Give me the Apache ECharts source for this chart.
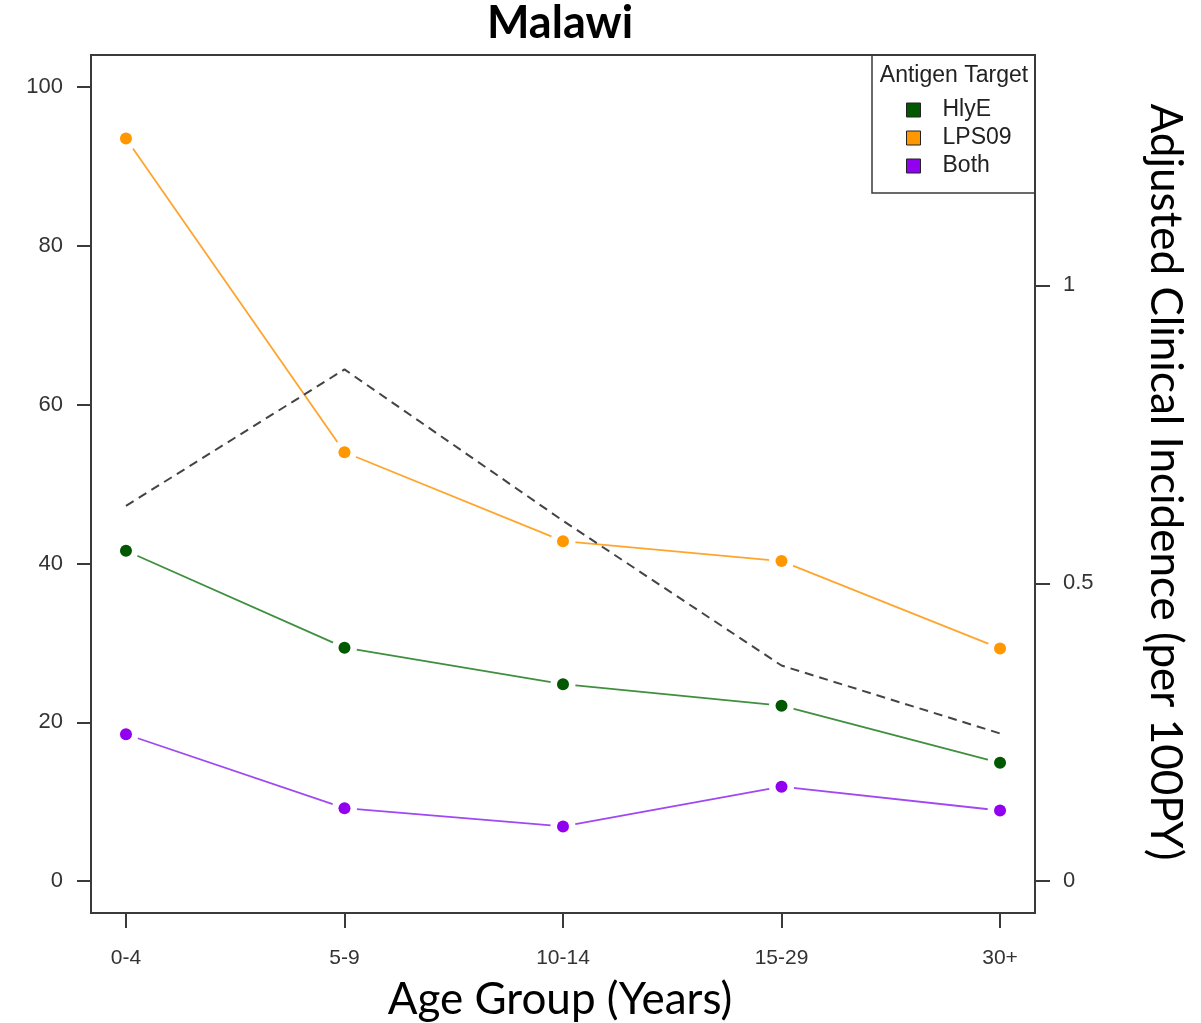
<!DOCTYPE html>
<html>
<head>
<meta charset="utf-8">
<script src="https://cdn.jsdelivr.net/npm/echarts@6/dist/echarts.min.js"></script>
<style>
html,body{margin:0;padding:0;background:#fff;}
#chart{width:1201px;height:1023px;}
</style>
</head>
<body>
<div id="chart"></div>
<script>
// ---- data ----
var categories = ['0-4', '5-9', '10-14', '15-29', '30+'];
var hlyE = [41.6, 29.4, 24.8, 22.1, 14.9];
var lps09 = [93.5, 54.0, 42.8, 40.3, 29.3];
var both = [18.5, 9.2, 6.9, 11.9, 8.9];
var incidence = [0.630, 0.859, 0.605, 0.362, 0.248];
var leftTicks = [0, 20, 40, 60, 80, 100];
var rightTicks = [0, 0.5, 1];
var xTicks = [1, 2, 3, 4, 5];

var colors = { HlyE: '#005800', LPS09: '#ff9700', Both: '#9200f0' };
var lineColors = { HlyE: '#3f8f3f', LPS09: '#ffa52e', Both: '#a048f2' };

function pts(arr) { return arr.map(function (v, i) { return [i + 1, v]; }); }

var groups = [['HlyE', hlyE], ['LPS09', lps09], ['Both', both]];
var series = [];
groups.forEach(function (g) {
  series.push({ name: g[0] + '_line', type: 'line', data: pts(g[1]), showSymbol: false, symbol: 'none',
    lineStyle: { color: lineColors[g[0]], width: 1.8 }, z: 2, silent: true, animation: false });
});
groups.forEach(function (g) {
  series.push({ name: g[0] + '_halo', type: 'scatter', data: pts(g[1]), symbolSize: 25,
    itemStyle: { color: '#ffffff', opacity: 1 }, z: 3, silent: true, animation: false });
});
groups.forEach(function (g) {
  series.push({ name: g[0], type: 'scatter', data: pts(g[1]), symbolSize: 12,
    itemStyle: { color: colors[g[0]], opacity: 1 }, z: 4, silent: true, animation: false });
});
series.push({ name: 'Incidence', type: 'line', yAxisIndex: 1, data: pts(incidence), showSymbol: false, symbol: 'none',
  lineStyle: { color: '#444444', width: 2, type: [9, 6] }, z: 5, silent: true, animation: false });

var chart = echarts.init(document.getElementById('chart'), null, { renderer: 'canvas' });
chart.setOption({
  backgroundColor: '#ffffff',
  animation: false,
  grid: { left: 91, right: 166, top: 55, bottom: 110, show: true, borderColor: '#3a3a3a', borderWidth: 2, backgroundColor: 'transparent' },
  xAxis: {
    type: 'value', min: 0.84, max: 5.16, position: 'bottom',
    axisLine: { show: false, onZero: false },
    splitLine: { show: false },
    axisTick: { show: true, length: 15, inside: false, customValues: xTicks, lineStyle: { color: '#3a3a3a', width: 2 } },
    axisLabel: { customValues: xTicks, margin: 35, fontFamily: 'Liberation Sans', fontSize: 21, color: '#333',
      formatter: function (v) { return categories[Math.round(v) - 1] || ''; } }
  },
  yAxis: [{
    type: 'value', min: -4, max: 104, position: 'left',
    axisLine: { show: false, onZero: false }, splitLine: { show: false },
    axisTick: { show: true, length: 14, customValues: leftTicks, lineStyle: { color: '#3a3a3a', width: 2 } },
    axisLabel: { customValues: leftTicks, margin: 28, fontFamily: 'Liberation Sans', fontSize: 22, color: '#333' }
  }, {
    type: 'value', min: -0.053333, max: 1.386667, position: 'right',
    axisLine: { show: false, onZero: false }, splitLine: { show: false },
    axisTick: { show: true, length: 15, customValues: rightTicks, lineStyle: { color: '#3a3a3a', width: 2 } },
    axisLabel: { customValues: rightTicks, margin: 28, fontFamily: 'Liberation Sans', fontSize: 22, color: '#333',
      formatter: function (v) { return String(v); } }
  }],
  legend: {
    data: ['HlyE', 'LPS09', 'Both'],
    orient: 'vertical', left: 906, top: 96, padding: 0, itemWidth: 14, itemHeight: 14, itemGap: 0,
    icon: 'rect', selectedMode: false,
    itemStyle: { borderColor: '#222', borderWidth: 1, opacity: 1 },
    textStyle: { fontFamily: 'Liberation Sans', fontSize: 23, color: '#222', lineHeight: 28, padding: [0, 0, 0, 17] }
  },
  graphic: [
    { type: 'rect', shape: { x: 872, y: 55, width: 163, height: 138 }, style: { fill: 'transparent', stroke: '#3a3a3a', lineWidth: 1.5 }, z: 10, silent: true },
    { type: 'text', x: 954, y: 76, style: { text: 'Antigen Target', fontFamily: 'Liberation Sans', fontSize: 23, fill: '#222', align: 'center', verticalAlign: 'middle' }, z: 10, silent: true },
    { type: 'text', x: 560, y: 23, style: { text: 'Malawi', fontFamily: 'Lato', fontWeight: 'bold', fontSize: 45, fill: '#000', align: 'center', verticalAlign: 'middle' }, silent: true },
    { type: 'text', x: 560, y: 1000, style: { text: 'Age Group (Years)', fontFamily: 'Lato', fontSize: 44, fill: '#000', align: 'center', verticalAlign: 'middle' }, silent: true },
    { type: 'text', x: 1165, y: 482, rotation: -Math.PI / 2, style: { text: 'Adjusted Clinical Incidence (per 100PY)', fontFamily: 'Lato', fontSize: 44, fill: '#000', align: 'center', verticalAlign: 'middle' }, silent: true }
  ],
  series: series
});
</script>
</body>
</html>
